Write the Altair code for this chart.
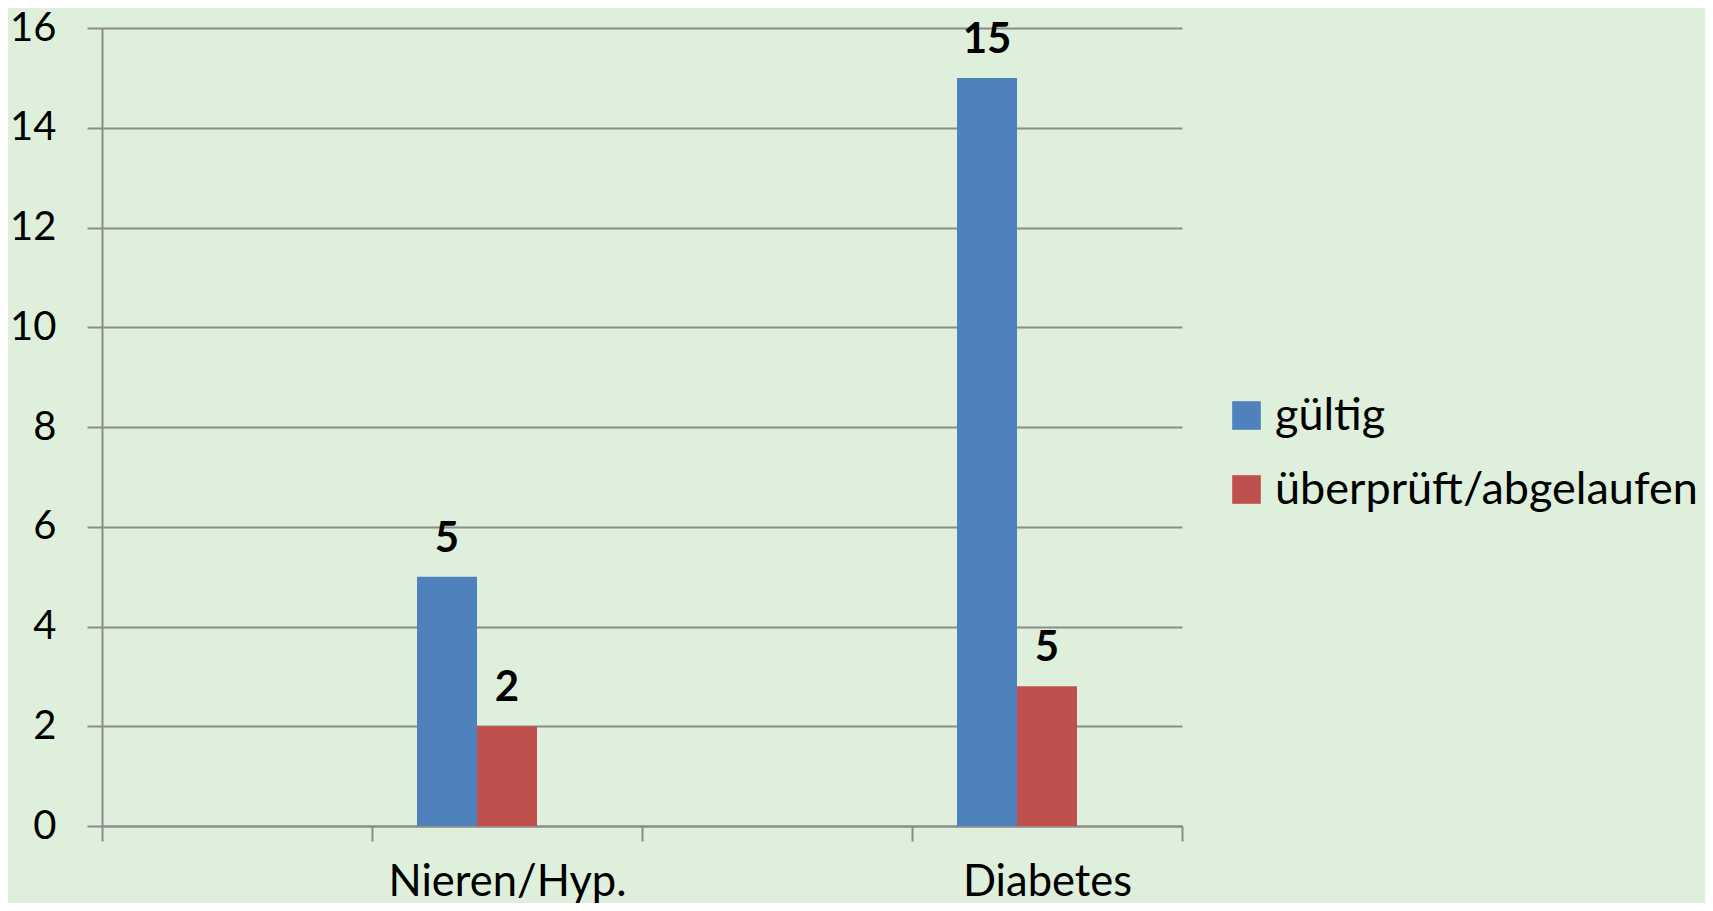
import altair as alt
import pandas as pd

# ---- data ----
categories = ["leer_a", "Nieren/Hyp.", "leer_b", "Diabetes"]   # 4 category slots, two empty
shown = ["Nieren/Hyp.", "Diabetes"]
series = ["gültig", "überprüft/abgelaufen"]
slots = ["gültig", "überprüft/abgelaufen", "leer"]            # third (empty) series slot
gueltig = [5, 15]
ueberprueft = [2, 2.8]
labels_gueltig = ["5", "15"]
labels_ueberprueft = ["2", "5"]
y_ticks = [0, 2, 4, 6, 8, 10, 12, 14, 16]
colors = ["#4F81BD", "#C0504D"]

rows = []
for i, c in enumerate(shown):
    rows.append(dict(cat=c, series=series[0], value=gueltig[i], label=labels_gueltig[i]))
    rows.append(dict(cat=c, series=series[1], value=ueberprueft[i], label=labels_ueberprueft[i]))
df = pd.DataFrame(rows)

FONT = "Lato"
GRID = "#8C8C8C"
BG = "#DEEFDB"

x = alt.X(
    "cat:N",
    scale=alt.Scale(domain=categories, paddingInner=0, paddingOuter=0),
    axis=alt.Axis(
        title=None, tickBand="extent", tickSize=15, tickColor=GRID, tickWidth=2,
        domainColor=GRID, domainWidth=2, grid=False, labelAngle=0, labelLimit=0,
        labelExpr="(datum.value == 'leer_a' || datum.value == 'leer_b') ? '' : datum.label",
        labelFontSize=43.5, labelFont=FONT, labelColor="black", labelPadding=20,
    ),
)
y = alt.Y(
    "value:Q",
    scale=alt.Scale(domain=[0, 16], nice=False),
    axis=alt.Axis(
        title=None, values=y_ticks, tickSize=15, tickColor=GRID, tickWidth=2,
        gridColor=GRID, gridWidth=2, domainColor=GRID, domainWidth=2,
        labelFontSize=40, labelFont=FONT, labelColor="black", labelPadding=31,
    ),
)
xo = alt.XOffset("series:N", scale=alt.Scale(domain=slots, paddingOuter=0.75, paddingInner=0))
color = alt.Color(
    "series:N",
    scale=alt.Scale(domain=series, range=colors),
    legend=alt.Legend(
        title=None, orient="none", legendX=1122, legendY=365,
        symbolType="square", symbolSize=820, symbolStrokeWidth=0, symbolOpacity=1,
        labelFontSize=45, labelFont=FONT, labelColor="black", labelOffset=6,
        labelLimit=0, rowPadding=28, padding=0,
    ),
)

bars = alt.Chart(df).mark_bar().encode(x=x, xOffset=xo, y=y, color=color)
text = alt.Chart(df).mark_text(
    baseline="alphabetic", dy=-25, fontSize=42, fontWeight="bold", font=FONT, color="black"
).encode(x=x, xOffset=xo, y=y, text="label:N")

chart = (
    alt.layer(bars, text)
    .properties(
        width=1080, height=798, background=BG,
        padding={"left": 94, "top": 20, "right": 523, "bottom": 77},
        autosize=alt.AutoSizeParams(type="none"),
    )
    .configure_view(stroke=None)
)

chart.save("out.html", embed_options={"renderer": "svg", "actions": False})
